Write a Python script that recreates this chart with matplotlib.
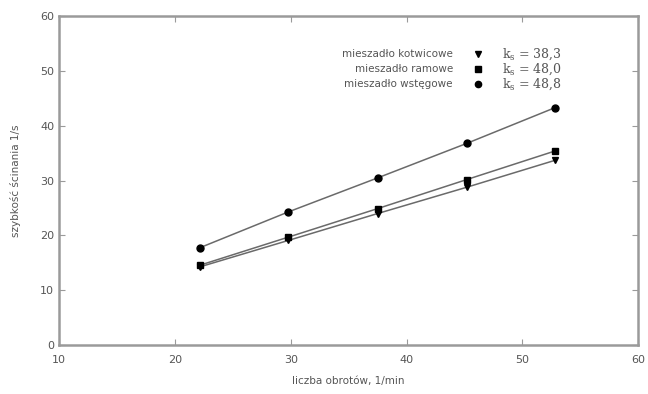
#!/usr/bin/env python3
"""Shear rate vs rotational speed for three mixer types."""

import matplotlib
matplotlib.use('Agg')
import matplotlib.pyplot as plt

# rotational speed, 1/min
speed = [22.2, 29.8, 37.5, 45.2, 52.8]

# shear rate, 1/s
kotwicowe = [14.3, 19.1, 24.0, 28.8, 33.7]
ramowe = [14.6, 19.7, 24.9, 30.2, 35.4]
wstegowe = [17.8, 24.3, 30.5, 36.8, 43.3]

labels = ['mieszadło kotwicowe', 'mieszadło ramowe', 'mieszadło wstęgowe']
ks_values = ['38,3', '48,0', '48,8']
markers = ['v', 's', 'o']

GRAY = '#9a9a9a'
TXT = '#555555'

plt.rcParams['mathtext.fontset'] = 'dejavuserif'

fig = plt.figure(figsize=(6.48, 3.94), dpi=100)
ax = fig.add_axes([0.091, 0.124, 0.894, 0.835])

for y, m in zip([kotwicowe, ramowe, wstegowe], markers):
    ax.plot(speed, y, color='#6a6a6a', linewidth=1.1, zorder=2)
    ax.plot(speed, y, linestyle='none', marker=m, color='black',
            markersize=5 if m != 'o' else 5, zorder=3)

ax.set_xlim(10, 60)
ax.set_ylim(0, 60)
ax.set_xticks([10, 20, 30, 40, 50, 60])
ax.set_yticks([0, 10, 20, 30, 40, 50, 60])

for s in ax.spines.values():
    s.set_color(GRAY)
    s.set_linewidth(1.8)
ax.tick_params(direction='in', length=4, width=0.8, color=GRAY,
               labelcolor=TXT, labelsize=8, top=True, right=True)
ax.tick_params(axis='x', pad=7)

ax.set_xlabel('liczba obrotów, 1/min', fontsize=7.5, color=TXT, labelpad=8)
ax.set_ylabel('szybkość ścinania 1/s', fontsize=7.5, color=TXT, labelpad=14)

# legend drawn by hand: label, marker, k_s value
row_y = [0.885, 0.838, 0.793]
for lab, ks, m, ry in zip(labels, ks_values, markers, row_y):
    ax.text(0.68, ry, lab, transform=ax.transAxes, ha='right', va='center',
            fontsize=7.5, color=TXT)
    ax.plot([0.723], [ry], transform=ax.transAxes, marker=m, color='black',
            markersize=4.5, linestyle='none', clip_on=False)
    ax.text(0.764, ry, r'$\mathrm{k_s}$ = ' + ks, transform=ax.transAxes,
            ha='left', va='center', fontsize=9, color=TXT,
            family='DejaVu Serif')

fig.savefig('out.png', dpi=100)
